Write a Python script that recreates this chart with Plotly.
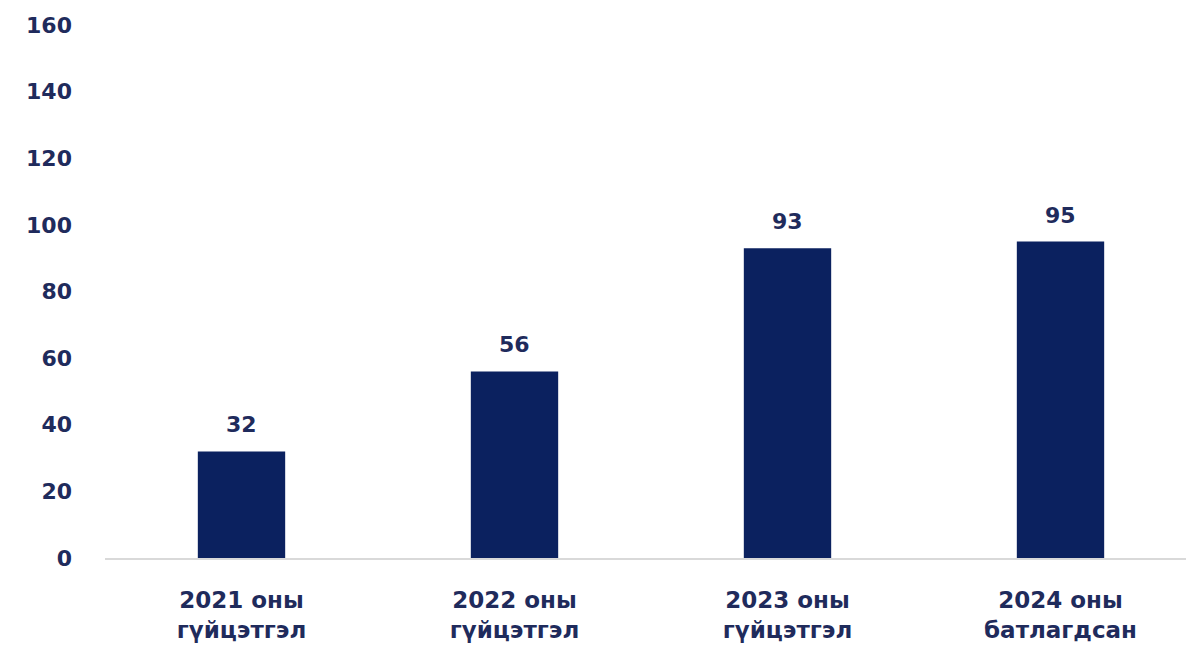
import plotly.graph_objects as go

categories = ["2021 оны<br>гүйцэтгэл", "2022 оны<br>гүйцэтгэл", "2023 оны<br>гүйцэтгэл", "2024 оны<br>батлагдсан"]
values = [32, 56, 93, 95]
y_ticks = [0, 20, 40, 60, 80, 100, 120, 140, 160]

bar_color = "#0b215f"
text_color = "#1f2b5c"
font_family = "DejaVu Sans"

fig = go.Figure()
fig.add_trace(go.Bar(x=categories, y=values, marker=dict(color=bar_color, line=dict(width=0)),
                     hoverinfo="skip"))

for c, v in zip(categories, values):
    fig.add_annotation(x=c, y=v, text=str(v), showarrow=False, yanchor="bottom", yshift=12,
                       font=dict(family=font_family, size=22, color=text_color, weight="bold"))

fig.update_layout(
    width=1194, height=652,
    margin=dict(l=97, r=5, t=10, b=102),
    paper_bgcolor="white", plot_bgcolor="white",
    bargap=0.68,
    showlegend=False,
    font=dict(family=font_family, size=20, color=text_color, weight="bold"),
)
fig.update_xaxes(showgrid=False, showline=True, linecolor="#d9d9d9", linewidth=2,
                 ticks="", ticklabelstandoff=20,
                 tickfont=dict(family=font_family, size=23, color=text_color, weight="bold"))
fig.update_yaxes(range=[0, 160], tickvals=y_ticks, showgrid=False, zeroline=False, showline=False,
                 ticks="", ticklabelstandoff=32, ticklabeloverflow="allow",
                 tickfont=dict(family=font_family, size=22, color=text_color, weight="bold"))

fig.write_html("out.html")
